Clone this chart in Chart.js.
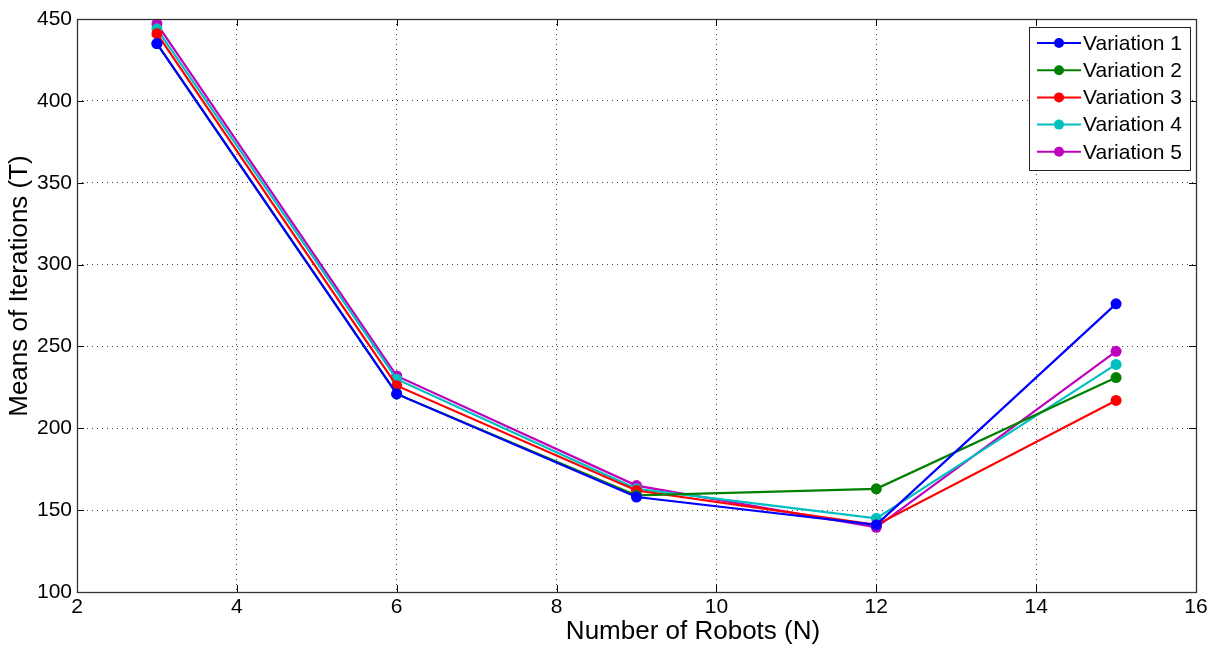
<!DOCTYPE html>
<html>
<head>
<meta charset="utf-8">
<script src="https://cdn.jsdelivr.net/npm/chart.js@4"></script>
<style>
  html, body { margin: 0; padding: 0; background: #fff; }
  #wrap { width: 1215px; height: 645px; }
</style>
</head>
<body>
<div id="wrap"><canvas id="c" width="1215" height="645"></canvas></div>
<script>
const robots = [3, 6, 9, 12, 15];
const seriesNames = ['Variation 1', 'Variation 2', 'Variation 3', 'Variation 4', 'Variation 5'];
const variation1 = [435, 221, 158, 141, 276];
const variation2 = [435, 221, 159, 163, 231];
const variation3 = [441, 226, 162, 141, 217];
const variation4 = [444, 230, 163, 145, 239];
const variation5 = [447, 232, 165, 139.5, 247];
const xTicks = [2, 4, 6, 8, 10, 12, 14, 16];
const yTicks = [100, 150, 200, 250, 300, 350, 400, 450];
const xTitle = 'Number of Robots (N)';
const yTitle = 'Means of Iterations (T)';
const colors = ['#0000ff', '#008000', '#ff0000', '#00bfbf', '#bf00bf'];

const allSeries = [variation1, variation2, variation3, variation4, variation5];
const datasets = allSeries.map((vals, i) => ({
  label: seriesNames[i],
  data: robots.map((x, j) => ({ x: x, y: vals[j] })),
  borderColor: colors[i],
  backgroundColor: colors[i],
  borderWidth: 2.2,
  pointRadius: 5.5,
  pointBorderWidth: 0,
  pointBackgroundColor: colors[i],
  tension: 0
}));

const FONT = 'Liberation Sans, Arial, sans-serif';

// frame, inward tick marks, axis labels and boxed legend
const matlabFrame = {
  id: 'matlabFrame',
  afterDraw(chart) {
    const ctx = chart.ctx;
    const a = chart.chartArea;
    const xs = chart.scales.x, ys = chart.scales.y;
    ctx.save();
    ctx.strokeStyle = '#000';
    ctx.lineWidth = 1;
    const L = 7;
    ctx.beginPath();
    xTicks.forEach(t => {
      const px = Math.round(xs.getPixelForValue(t)) + 0.5;
      ctx.moveTo(px, a.bottom); ctx.lineTo(px, a.bottom - L);
      ctx.moveTo(px, a.top); ctx.lineTo(px, a.top + L);
    });
    yTicks.forEach(t => {
      const py = Math.round(ys.getPixelForValue(t)) + 0.5;
      ctx.moveTo(a.left, py); ctx.lineTo(a.left + L, py);
      ctx.moveTo(a.right, py); ctx.lineTo(a.right - L, py);
    });
    ctx.stroke();
    ctx.lineWidth = 1.3;
    ctx.strokeStyle = '#333';
    ctx.strokeRect(Math.round(a.left) + 0.5, Math.round(a.top) + 0.5,
                   Math.round(a.right - a.left), Math.round(a.bottom - a.top));

    // axis labels
    ctx.fillStyle = '#000';
    ctx.font = '26px ' + FONT;
    ctx.textAlign = 'center';
    ctx.textBaseline = 'middle';
    ctx.fillText(xTitle, 693, 632);
    ctx.save();
    ctx.translate(20, 286);
    ctx.rotate(-Math.PI / 2);
    ctx.fillText(yTitle, 0, 0);
    ctx.restore();

    // legend box
    const bx = 1029.5, by = 27.5, bw = 161, bh = 143;
    ctx.fillStyle = '#fff';
    ctx.fillRect(bx, by, bw, bh);
    ctx.strokeStyle = '#222';
    ctx.lineWidth = 1;
    ctx.strokeRect(bx, by, bw, bh);
    ctx.font = '21px ' + FONT;
    ctx.textBaseline = 'middle';
    ctx.textAlign = 'left';
    chart.data.datasets.forEach((ds, i) => {
      const y = 43 + i * 27.2;
      ctx.strokeStyle = ds.borderColor;
      ctx.lineWidth = 2;
      ctx.beginPath();
      ctx.moveTo(1037, y); ctx.lineTo(1081, y);
      ctx.stroke();
      ctx.fillStyle = ds.borderColor;
      ctx.beginPath();
      ctx.arc(1059, y, 5, 0, Math.PI * 2);
      ctx.fill();
      ctx.fillStyle = '#000';
      ctx.fillText(ds.label, 1083, y + 1);
    });
    ctx.restore();
  }
};

new Chart(document.getElementById('c'), {
  type: 'line',
  data: { datasets },
  options: {
    responsive: false,
    animation: false,
    layout: { padding: { top: 19, right: 19, left: 0, bottom: 0 } },
    plugins: { legend: { display: false }, tooltip: { enabled: false } },
    scales: {
      x: {
        type: 'linear',
        min: 2, max: 16,
        afterBuildTicks: s => { s.ticks = xTicks.map(v => ({ value: v })); },
        afterFit: s => { s.height = 53; },
        grid: { color: '#444', lineWidth: 1, drawTicks: false },
        border: { display: false, dash: [1, 4] },
        ticks: { color: '#000', font: { family: FONT, size: 21 }, padding: 3, maxRotation: 0 },
        title: { display: false }
      },
      y: {
        type: 'linear',
        min: 100, max: 450,
        afterBuildTicks: s => { s.ticks = yTicks.map(v => ({ value: v })); },
        afterFit: s => { s.width = 77; },
        grid: { color: '#444', lineWidth: 1, drawTicks: false },
        border: { display: false, dash: [1, 4] },
        ticks: { color: '#000', font: { family: FONT, size: 21 }, padding: 5 },
        title: { display: false }
      }
    }
  },
  plugins: [matlabFrame]
});
</script>
</body>
</html>
